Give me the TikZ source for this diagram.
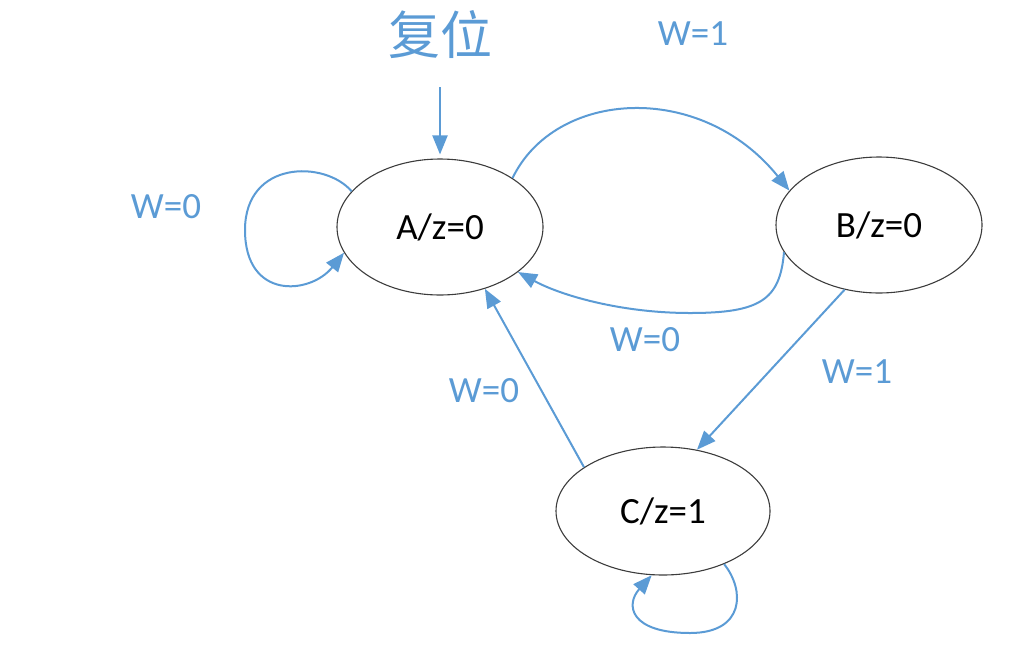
\documentclass[tikz,border=0pt]{standalone}
\usepackage{fontspec}
\setmainfont{Carlito}
\newfontfamily\cjk{Noto Sans CJK SC}
\usetikzlibrary{arrows.meta,shapes.geometric}
\definecolor{ablue}{RGB}{91,155,213}
\definecolor{edark}{RGB}{60,60,60}
\tikzset{
  state/.style={ellipse,draw=edark,line width=1.1pt,inner sep=0pt,
    font=\fontsize{37}{40}\selectfont},
  arr/.style={draw=ablue,line width=2pt,-{Triangle[length=19pt,width=15pt]},fill=none},
  lbl/.style={text=ablue,font=\fontsize{37}{40}\selectfont,inner sep=0pt},
}
\begin{document}
\begin{tikzpicture}[x=1pt,y=-1pt]
\useasboundingbox (0,0) rectangle (1024,659);
\node[state,minimum width=206pt,minimum height=136pt] (A) at (440,227) {A/z=0};
\node[state,minimum width=206pt,minimum height=136pt] (B) at (879,225) {B/z=0};
\node[state,minimum width=214pt,minimum height=128pt] (C) at (663,511) {C/z=1};

\node[text=ablue,inner sep=0pt,font=\cjk\fontsize{52}{56}\selectfont] (rst) at (440,35) {复位};
\coordinate (rs) at (440,87);
\draw[arr,shorten >=4pt] (rs) -- (A.90);

% self loop A
\draw[arr] (A.158) .. controls (325,160) and (245,160) .. (245,230)
                   .. controls (245,300) and (310,295) .. (A.195);
% A -> B
\draw[arr] (A.34) .. controls (555,90) and (700,80) .. (B.159);
% B -> A
\draw[arr] (B.196) .. controls (780,300) and (760,313) .. (690,313)
                   .. controls (620,313) and (560,295) .. (A.330);
% B -> C
\draw[arr] (B.242) -- (C.61);
% C -> A
\draw[arr] (C.151) -- (A.306);
% self loop C
\draw[arr] (C.319) .. controls (745,590) and (745,633) .. (690,633)
                   .. controls (630,633) and (625,605) .. (C.260);

\node[lbl] (l1) at (693,34) {W=1};
\node[lbl] (l2) at (166,207) {W=0};
\node[lbl] (l3) at (645,340) {W=0};
\node[lbl] (l4) at (857,372) {W=1};
\node[lbl] (l5) at (484,391) {W=0};
\end{tikzpicture}
\end{document}
